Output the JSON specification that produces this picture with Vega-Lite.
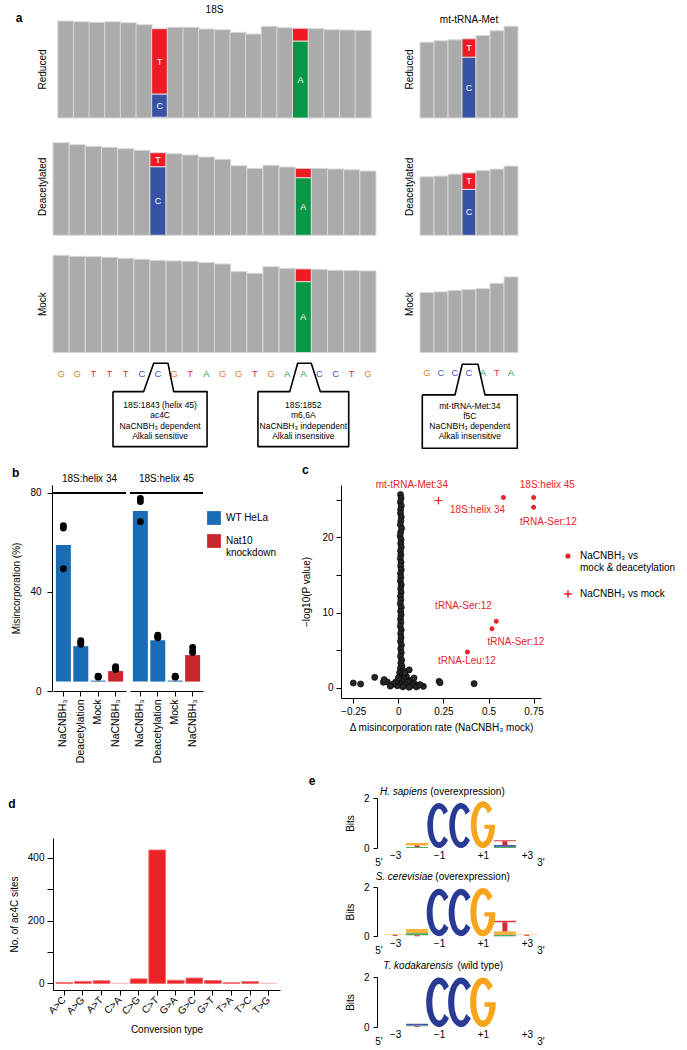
{
 "$schema": "https://vega.github.io/schema/vega-lite/v6.json",
 "background": "white",
 "padding": {"left": 8, "top": 5, "right": 2, "bottom": 2},
 "config": {
   "font": "Liberation Sans",
   "view": {"stroke": null},
   "axis": {"grid": false, "labelColor": "#000", "titleColor": "#000", "domainColor": "#000", "tickColor": "#000", "labelFontSize": 10, "titleFontSize": 10, "titleFontWeight": "normal", "labelFlush": false, "labelOverlap": false},
   "legend": {"labelColor": "#000", "labelFontSize": 10, "padding": 0},
   "title": {"fontSize": 12, "fontWeight": "bold", "color": "#000", "anchor": "start"},
   "text": {"color": "#000"}
 },
 "datasets": {
  "cov": [
   {"p":"18S","c":"Reduced","i":1,"b":"ref","n":97},{"p":"18S","c":"Reduced","i":2,"b":"ref","n":96.3},{"p":"18S","c":"Reduced","i":3,"b":"ref","n":95.7},{"p":"18S","c":"Reduced","i":4,"b":"ref","n":96.3},{"p":"18S","c":"Reduced","i":5,"b":"ref","n":95.3},{"p":"18S","c":"Reduced","i":6,"b":"ref","n":93.3},
   {"p":"18S","c":"Reduced","i":7,"b":"A","n":0.8},{"p":"18S","c":"Reduced","i":7,"b":"C","n":23.2},{"p":"18S","c":"Reduced","i":7,"b":"T","n":65.3},
   {"p":"18S","c":"Reduced","i":8,"b":"ref","n":90.7},{"p":"18S","c":"Reduced","i":9,"b":"ref","n":90.7},{"p":"18S","c":"Reduced","i":10,"b":"ref","n":89},{"p":"18S","c":"Reduced","i":11,"b":"ref","n":88.3},{"p":"18S","c":"Reduced","i":12,"b":"ref","n":85.7},{"p":"18S","c":"Reduced","i":13,"b":"ref","n":84},{"p":"18S","c":"Reduced","i":14,"b":"ref","n":91.7},{"p":"18S","c":"Reduced","i":15,"b":"ref","n":90.3},
   {"p":"18S","c":"Reduced","i":16,"b":"A","n":77},{"p":"18S","c":"Reduced","i":16,"b":"T","n":12.7},
   {"p":"18S","c":"Reduced","i":17,"b":"ref","n":89.3},{"p":"18S","c":"Reduced","i":18,"b":"ref","n":88.3},{"p":"18S","c":"Reduced","i":19,"b":"ref","n":88},{"p":"18S","c":"Reduced","i":20,"b":"ref","n":87.7},
   {"p":"18S","c":"Deacetylated","i":1,"b":"ref","n":92.6},{"p":"18S","c":"Deacetylated","i":2,"b":"ref","n":90.6},{"p":"18S","c":"Deacetylated","i":3,"b":"ref","n":89},{"p":"18S","c":"Deacetylated","i":4,"b":"ref","n":88},{"p":"18S","c":"Deacetylated","i":5,"b":"ref","n":86.6},{"p":"18S","c":"Deacetylated","i":6,"b":"ref","n":85},
   {"p":"18S","c":"Deacetylated","i":7,"b":"C","n":68.6},{"p":"18S","c":"Deacetylated","i":7,"b":"T","n":14},
   {"p":"18S","c":"Deacetylated","i":8,"b":"ref","n":81.6},{"p":"18S","c":"Deacetylated","i":9,"b":"ref","n":80.3},{"p":"18S","c":"Deacetylated","i":10,"b":"ref","n":78.3},{"p":"18S","c":"Deacetylated","i":11,"b":"ref","n":76},{"p":"18S","c":"Deacetylated","i":12,"b":"ref","n":69.6},{"p":"18S","c":"Deacetylated","i":13,"b":"ref","n":67},{"p":"18S","c":"Deacetylated","i":14,"b":"ref","n":70},{"p":"18S","c":"Deacetylated","i":15,"b":"ref","n":68.3},
   {"p":"18S","c":"Deacetylated","i":16,"b":"A","n":57.6},{"p":"18S","c":"Deacetylated","i":16,"b":"T","n":9.4},
   {"p":"18S","c":"Deacetylated","i":17,"b":"ref","n":67},{"p":"18S","c":"Deacetylated","i":18,"b":"ref","n":66.3},{"p":"18S","c":"Deacetylated","i":19,"b":"ref","n":65.6},{"p":"18S","c":"Deacetylated","i":20,"b":"ref","n":64.3},
   {"p":"18S","c":"Mock","i":1,"b":"ref","n":97.3},{"p":"18S","c":"Mock","i":2,"b":"ref","n":96.3},{"p":"18S","c":"Mock","i":3,"b":"ref","n":96},{"p":"18S","c":"Mock","i":4,"b":"ref","n":95.3},{"p":"18S","c":"Mock","i":5,"b":"ref","n":94.3},{"p":"18S","c":"Mock","i":6,"b":"ref","n":93.3},{"p":"18S","c":"Mock","i":7,"b":"ref","n":92.3},{"p":"18S","c":"Mock","i":8,"b":"ref","n":91.7},{"p":"18S","c":"Mock","i":9,"b":"ref","n":91.3},{"p":"18S","c":"Mock","i":10,"b":"ref","n":90},{"p":"18S","c":"Mock","i":11,"b":"ref","n":88.7},{"p":"18S","c":"Mock","i":12,"b":"ref","n":81},{"p":"18S","c":"Mock","i":13,"b":"ref","n":79.3},{"p":"18S","c":"Mock","i":14,"b":"ref","n":86},{"p":"18S","c":"Mock","i":15,"b":"ref","n":84.3},
   {"p":"18S","c":"Mock","i":16,"b":"A","n":71},{"p":"18S","c":"Mock","i":16,"b":"T","n":12.7},
   {"p":"18S","c":"Mock","i":17,"b":"ref","n":83.3},{"p":"18S","c":"Mock","i":18,"b":"ref","n":82.3},{"p":"18S","c":"Mock","i":19,"b":"ref","n":82},{"p":"18S","c":"Mock","i":20,"b":"ref","n":81.7},
   {"p":"tRNA","c":"Reduced","i":1,"b":"ref","n":75.8},{"p":"tRNA","c":"Reduced","i":2,"b":"ref","n":77.2},{"p":"tRNA","c":"Reduced","i":3,"b":"ref","n":78.2},{"p":"tRNA","c":"Reduced","i":4,"b":"C","n":60.8},{"p":"tRNA","c":"Reduced","i":4,"b":"T","n":18.4},{"p":"tRNA","c":"Reduced","i":5,"b":"ref","n":82.5},{"p":"tRNA","c":"Reduced","i":6,"b":"ref","n":87.2},{"p":"tRNA","c":"Reduced","i":7,"b":"ref","n":91.8},
   {"p":"tRNA","c":"Deacetylated","i":1,"b":"ref","n":58.5},{"p":"tRNA","c":"Deacetylated","i":2,"b":"ref","n":59.2},{"p":"tRNA","c":"Deacetylated","i":3,"b":"ref","n":61.2},{"p":"tRNA","c":"Deacetylated","i":4,"b":"C","n":45.9},{"p":"tRNA","c":"Deacetylated","i":4,"b":"T","n":16.6},{"p":"tRNA","c":"Deacetylated","i":5,"b":"ref","n":64.9},{"p":"tRNA","c":"Deacetylated","i":6,"b":"ref","n":66.2},{"p":"tRNA","c":"Deacetylated","i":7,"b":"ref","n":69.2},
   {"p":"tRNA","c":"Mock","i":1,"b":"ref","n":60},{"p":"tRNA","c":"Mock","i":2,"b":"ref","n":60.7},{"p":"tRNA","c":"Mock","i":3,"b":"ref","n":62.3},{"p":"tRNA","c":"Mock","i":4,"b":"ref","n":63},{"p":"tRNA","c":"Mock","i":5,"b":"ref","n":64},{"p":"tRNA","c":"Mock","i":6,"b":"ref","n":69.3},{"p":"tRNA","c":"Mock","i":7,"b":"ref","n":75.7}
  ],
  "seq": [
   {"p":"18S","i":1,"L":"G"},{"p":"18S","i":2,"L":"G"},{"p":"18S","i":3,"L":"T"},{"p":"18S","i":4,"L":"T"},{"p":"18S","i":5,"L":"T"},{"p":"18S","i":6,"L":"C"},{"p":"18S","i":7,"L":"C"},{"p":"18S","i":8,"L":"G"},{"p":"18S","i":9,"L":"T"},{"p":"18S","i":10,"L":"A"},{"p":"18S","i":11,"L":"G"},{"p":"18S","i":12,"L":"G"},{"p":"18S","i":13,"L":"T"},{"p":"18S","i":14,"L":"G"},{"p":"18S","i":15,"L":"A"},{"p":"18S","i":16,"L":"A"},{"p":"18S","i":17,"L":"C"},{"p":"18S","i":18,"L":"C"},{"p":"18S","i":19,"L":"T"},{"p":"18S","i":20,"L":"G"},
   {"p":"tRNA","i":1,"L":"G"},{"p":"tRNA","i":2,"L":"C"},{"p":"tRNA","i":3,"L":"C"},{"p":"tRNA","i":4,"L":"C"},{"p":"tRNA","i":5,"L":"A"},{"p":"tRNA","i":6,"L":"T"},{"p":"tRNA","i":7,"L":"A"}
  ],
  "box": [
   {"p":"18S","g":1,"k":1,"x":4.215,"y":35},{"p":"18S","g":1,"k":2,"x":6.116,"y":35},{"p":"18S","g":1,"k":3,"x":6.735,"y":6.7},{"p":"18S","g":1,"k":4,"x":7.621,"y":6.7},{"p":"18S","g":1,"k":5,"x":7.974,"y":35},{"p":"18S","g":1,"k":6,"x":10.04,"y":35},{"p":"18S","g":1,"k":7,"x":10.04,"y":90},{"p":"18S","g":1,"k":8,"x":4.215,"y":90},{"p":"18S","g":1,"k":9,"x":4.215,"y":35},
   {"p":"18S","g":2,"k":1,"x":13.19,"y":35},{"p":"18S","g":2,"k":2,"x":15.16,"y":35},{"p":"18S","g":2,"k":3,"x":15.65,"y":6.7},{"p":"18S","g":2,"k":4,"x":16.49,"y":6.7},{"p":"18S","g":2,"k":5,"x":17.05,"y":35},{"p":"18S","g":2,"k":6,"x":18.81,"y":35},{"p":"18S","g":2,"k":7,"x":18.81,"y":90},{"p":"18S","g":2,"k":8,"x":13.19,"y":90},{"p":"18S","g":2,"k":9,"x":13.19,"y":35},
   {"p":"tRNA","g":3,"k":1,"x":0.664,"y":38.3},{"p":"tRNA","g":3,"k":2,"x":3.0,"y":38.3},{"p":"tRNA","g":3,"k":3,"x":3.52,"y":7.7},{"p":"tRNA","g":3,"k":4,"x":4.64,"y":7.7},{"p":"tRNA","g":3,"k":5,"x":5.14,"y":38.3},{"p":"tRNA","g":3,"k":6,"x":7.45,"y":38.3},{"p":"tRNA","g":3,"k":7,"x":7.45,"y":91.7},{"p":"tRNA","g":3,"k":8,"x":0.664,"y":91.7},{"p":"tRNA","g":3,"k":9,"x":0.664,"y":38.3}
  ],
  "btxt": [
   {"p":"18S","x":7.13,"y":48.3,"t":"18S:1843 (helix 45)"},{"p":"18S","x":7.13,"y":58.3,"t":"ac4C"},{"p":"18S","x":7.13,"y":69,"t":"NaCNBH₃ dependent"},{"p":"18S","x":7.13,"y":79.3,"t":"Alkali sensitive"},
   {"p":"18S","x":16.0,"y":48.3,"t":"18S:1852"},{"p":"18S","x":16.0,"y":58.3,"t":"m6,6A"},{"p":"18S","x":16.0,"y":69,"t":"NaCNBH₃ independent"},{"p":"18S","x":16.0,"y":79.3,"t":"Alkali insensitive"},
   {"p":"tRNA","x":4.06,"y":49,"t":"mt-tRNA-Met:34"},{"p":"tRNA","x":4.06,"y":59,"t":"f5C"},{"p":"tRNA","x":4.06,"y":69,"t":"NaCNBH₃ dependent"},{"p":"tRNA","x":4.06,"y":79.3,"t":"Alkali insensitive"}
  ],
  "mis": [
   {"h":"18S:helix 34","t":"NaCNBH₃ (WT)","g":"WT HeLa","m":59},{"h":"18S:helix 34","t":"Deacetylation","g":"WT HeLa","m":18.1},{"h":"18S:helix 34","t":"Mock","g":"WT HeLa","m":4.2},{"h":"18S:helix 34","t":"NaCNBH₃ (Nat10 KD)","g":"Nat10 knockdown","m":8.05},
   {"h":"18S:helix 45","t":"NaCNBH₃ (WT)","g":"WT HeLa","m":72.7},{"h":"18S:helix 45","t":"Deacetylation","g":"WT HeLa","m":20.5},{"h":"18S:helix 45","t":"Mock","g":"WT HeLa","m":4.2},{"h":"18S:helix 45","t":"NaCNBH₃ (Nat10 KD)","g":"Nat10 knockdown","m":14.5},
   {"h":"18S:helix 34","t":"NaCNBH₃ (WT)","r":66.8},{"h":"18S:helix 34","t":"NaCNBH₃ (WT)","r":65.8},{"h":"18S:helix 34","t":"NaCNBH₃ (WT)","r":49.4},
   {"h":"18S:helix 34","t":"Deacetylation","r":20.3},{"h":"18S:helix 34","t":"Deacetylation","r":19.5},{"h":"18S:helix 34","t":"Deacetylation","r":18.9},
   {"h":"18S:helix 34","t":"Mock","r":5.8},{"h":"18S:helix 34","t":"Mock","r":5.6},{"h":"18S:helix 34","t":"Mock","r":6.0},
   {"h":"18S:helix 34","t":"NaCNBH₃ (Nat10 KD)","r":9.8},{"h":"18S:helix 34","t":"NaCNBH₃ (Nat10 KD)","r":9.2},{"h":"18S:helix 34","t":"NaCNBH₃ (Nat10 KD)","r":8.7},
   {"h":"18S:helix 45","t":"NaCNBH₃ (WT)","r":77.8},{"h":"18S:helix 45","t":"NaCNBH₃ (WT)","r":76.5},{"h":"18S:helix 45","t":"NaCNBH₃ (WT)","r":68.4},
   {"h":"18S:helix 45","t":"Deacetylation","r":22.5},{"h":"18S:helix 45","t":"Deacetylation","r":21.9},{"h":"18S:helix 45","t":"Deacetylation","r":21.5},
   {"h":"18S:helix 45","t":"Mock","r":5.8},{"h":"18S:helix 45","t":"Mock","r":5.6},{"h":"18S:helix 45","t":"Mock","r":6.0},
   {"h":"18S:helix 45","t":"NaCNBH₃ (Nat10 KD)","r":17.6},{"h":"18S:helix 45","t":"NaCNBH₃ (Nat10 KD)","r":15.9},{"h":"18S:helix 45","t":"NaCNBH₃ (Nat10 KD)","r":15.5}
  ],
  "cpts": [
   {"dx":0.012,"lp":25.7},{"dx":0.015,"lp":25.2},{"dx":0.011,"lp":24.7},{"dx":0.016,"lp":24.2},{"dx":0.013,"lp":23.7},{"dx":0.012,"lp":23.2},{"dx":0.016,"lp":22.7},{"dx":0.014,"lp":22.2},{"dx":0.011,"lp":21.7},{"dx":0.018,"lp":21.2},{"dx":0.013,"lp":20.7},{"dx":0.01,"lp":20.2},{"dx":0.015,"lp":19.7},{"dx":0.013,"lp":19.2},{"dx":0.016,"lp":18.7},{"dx":0.012,"lp":18.2},{"dx":0.014,"lp":17.7},{"dx":0.011,"lp":17.2},{"dx":0.015,"lp":16.7},{"dx":0.013,"lp":16.2},{"dx":0.016,"lp":15.7},{"dx":0.012,"lp":15.2},{"dx":0.014,"lp":14.7},{"dx":0.011,"lp":14.2},{"dx":0.016,"lp":13.7},{"dx":0.013,"lp":13.2},{"dx":0.015,"lp":12.7},{"dx":0.012,"lp":12.2},{"dx":0.014,"lp":11.7},{"dx":0.011,"lp":11.2},{"dx":0.016,"lp":10.7},{"dx":0.013,"lp":10.2},{"dx":0.015,"lp":9.7},{"dx":0.012,"lp":9.2},{"dx":0.014,"lp":8.7},{"dx":0.011,"lp":8.2},{"dx":0.016,"lp":7.7},{"dx":0.013,"lp":7.2},{"dx":0.015,"lp":6.7},{"dx":0.012,"lp":6.2},{"dx":0.017,"lp":5.7},{"dx":0.013,"lp":5.2},{"dx":0.016,"lp":4.7},{"dx":0.012,"lp":4.2},{"dx":0.018,"lp":3.7},{"dx":0.014,"lp":3.3},{"dx":0.02,"lp":2.9},{"dx":0.011,"lp":2.6},{"dx":0.026,"lp":2.3},{"dx":0.007,"lp":2.0},{"dx":0.035,"lp":1.9},{"dx":0.06,"lp":2.4},{"dx":0.018,"lp":1.7},{"dx":0.045,"lp":1.5},{"dx":0.004,"lp":1.4},{"dx":0.03,"lp":1.2},{"dx":0.07,"lp":1.0},{"dx":0.02,"lp":0.9},{"dx":0.055,"lp":0.8},{"dx":0.088,"lp":0.6},{"dx":0.01,"lp":0.5},{"dx":0.04,"lp":0.4},{"dx":0.075,"lp":0.35},{"dx":0.108,"lp":0.3},{"dx":0.139,"lp":0.22},{"dx":0.025,"lp":0.15},{"dx":0.06,"lp":0.1},{"dx":0.1,"lp":0.15},{"dx":-0.005,"lp":0.3},{"dx":-0.015,"lp":0.8},{"dx":0.036,"lp":2.0},{"dx":0.087,"lp":1.33},{"dx":0.12,"lp":0.45},
   {"dx":-0.25,"lp":0.66},{"dx":-0.209,"lp":0.53},{"dx":-0.131,"lp":1.42},{"dx":-0.083,"lp":0.76},{"dx":-0.061,"lp":0.8},{"dx":-0.079,"lp":1.1},{"dx":0.0,"lp":1.33},{"dx":-0.03,"lp":0.5},{"dx":-0.045,"lp":0.25},{"dx":0.226,"lp":0.89},{"dx":0.231,"lp":0.7},{"dx":0.42,"lp":0.57}
  ],
  "cred": [
   {"dx":0.583,"lp":25.3,"cmp":"both"},{"dx":0.75,"lp":25.3,"cmp":"both"},{"dx":0.75,"lp":24.0,"cmp":"both"},{"dx":0.543,"lp":8.86,"cmp":"both"},{"dx":0.519,"lp":7.88,"cmp":"both"},{"dx":0.383,"lp":4.78,"cmp":"both"},{"dx":0.222,"lp":24.9,"cmp":"mock"}
  ],
  "clab": [
   {"dx":0.075,"lp":26.9,"t":"mt-tRNA-Met:34"},{"dx":0.826,"lp":26.9,"t":"18S:helix 45"},{"dx":0.439,"lp":23.6,"t":"18S:helix 34"},{"dx":0.832,"lp":22.0,"t":"tRNA-Ser:12"},{"dx":0.361,"lp":10.84,"t":"tRNA-Ser:12"},{"dx":0.652,"lp":6.15,"t":"tRNA-Ser:12"},{"dx":0.38,"lp":3.53,"t":"tRNA-Leu:12"}
  ],
  "conv": [
   {"k":"A>C","n":3},{"k":"A>G","n":6.5},{"k":"A>T","n":8.5},{"k":"C>A","n":0.5},{"k":"C>G","n":14.5},{"k":"C>T","n":425},{"k":"G>A","n":10},{"k":"G>C","n":17},{"k":"G>T","n":9},{"k":"T>A","n":2},{"k":"T>C","n":5.5},{"k":"T>G","n":0.5}
  ],
  "logoL": [
   {"lg":1,"pos":-1,"L":"C","bits":1.8},{"lg":1,"pos":0,"L":"C","bits":1.8},{"lg":1,"pos":1,"L":"G","bits":1.87},
   {"lg":2,"pos":-1,"L":"C","bits":1.9},{"lg":2,"pos":0,"L":"C","bits":1.9},{"lg":2,"pos":1,"L":"G","bits":1.93},
   {"lg":3,"pos":-1,"L":"C","bits":1.98},{"lg":3,"pos":0,"L":"C","bits":1.98},{"lg":3,"pos":1,"L":"G","bits":1.98}
  ],
  "logoS": [
   {"lg":1,"pos":-2,"L":"A","lo":0,"hi":0.04,"part":"f"},{"lg":1,"pos":-2,"L":"T","lo":0.04,"hi":0.1,"part":"s"},{"lg":1,"pos":-2,"L":"G","lo":0.1,"hi":0.2,"part":"f"},
   {"lg":1,"pos":2,"L":"A","lo":0,"hi":0.05,"part":"f"},{"lg":1,"pos":2,"L":"C","lo":0.05,"hi":0.12,"part":"f"},{"lg":1,"pos":2,"L":"T","lo":0.12,"hi":0.27,"part":"s"},{"lg":1,"pos":2,"L":"T","lo":0.27,"hi":0.31,"part":"f"},
   {"lg":2,"pos":-3,"L":"T","lo":0.02,"hi":0.06,"part":"s"},{"lg":2,"pos":-3,"L":"G","lo":0.06,"hi":0.08,"part":"f"},
   {"lg":2,"pos":-2,"L":"T","lo":0,"hi":0.04,"part":"s"},{"lg":2,"pos":-2,"L":"A","lo":0.04,"hi":0.13,"part":"f"},{"lg":2,"pos":-2,"L":"G","lo":0.13,"hi":0.3,"part":"f"},
   {"lg":2,"pos":2,"L":"A","lo":0,"hi":0.06,"part":"f"},{"lg":2,"pos":2,"L":"G","lo":0.06,"hi":0.2,"part":"f"},{"lg":2,"pos":2,"L":"T","lo":0.2,"hi":0.57,"part":"s"},{"lg":2,"pos":2,"L":"T","lo":0.57,"hi":0.63,"part":"f"},
   {"lg":2,"pos":3,"L":"T","lo":0.02,"hi":0.06,"part":"s"},{"lg":2,"pos":3,"L":"G","lo":0.06,"hi":0.08,"part":"f"},
   {"lg":3,"pos":-2,"L":"T","lo":0,"hi":0.03,"part":"s"},{"lg":3,"pos":-2,"L":"A","lo":0.03,"hi":0.06,"part":"f"},{"lg":3,"pos":-2,"L":"C","lo":0.06,"hi":0.13,"part":"f"}
  ],
  "etxt": [
   {"lg":1,"kind":"species","x":-3.69,"y":2.24,"t":"H. sapiens"},{"lg":1,"kind":"strain","x":-1.4,"y":2.24,"t":"(overexpression)"},{"lg":1,"kind":"end","x":-3.74,"y":-0.6,"t":"5′"},{"lg":1,"kind":"end","x":3.64,"y":-0.6,"t":"3′"},{"lg":1,"kind":"panel","x":-6.79,"y":2.67,"t":"e"},
   {"lg":2,"kind":"species","x":-3.89,"y":2.4,"t":"S. cerevisiae"},{"lg":2,"kind":"strain","x":-1.17,"y":2.4,"t":"(overexpression)"},{"lg":2,"kind":"end","x":-3.74,"y":-0.6,"t":"5′"},{"lg":2,"kind":"end","x":3.64,"y":-0.6,"t":"3′"},
   {"lg":3,"kind":"species","x":-3.54,"y":2.44,"t":"T. kodakarensis"},{"lg":3,"kind":"strain","x":-0.16,"y":2.44,"t":"(wild type)"},{"lg":3,"kind":"end","x":-3.74,"y":-0.6,"t":"5′"},{"lg":3,"kind":"end","x":3.64,"y":-0.6,"t":"3′"}
  ],
  "plab": [{"panel": "a", "x": -1.98, "y": 100}, {"panel": "d", "x": -41, "y": 6}]
 },
 "columns": 1,
 "align": "none",
 "spacing": 12,
 "resolve": {"scale": {"color": "independent", "fill": "independent", "stroke": "independent", "shape": "independent", "size": "independent", "opacity": "independent"}},
 "concat": [
  {
   "spacing": 27,
   "resolve": {"scale": {"color": "independent", "fill": "independent", "stroke": "independent", "shape": "independent", "size": "independent", "opacity": "independent"}},
   "hconcat": [
    {
     "spacing": 19.3,
     "bounds": "flush",
     "resolve": {"scale": {"color": "independent", "fill": "independent", "stroke": "independent", "shape": "independent", "size": "independent", "opacity": "independent"}},
     "vconcat": [
      {
       "width": 323, "height": 98,
       "title": {"text": "18S", "fontSize": 10, "fontWeight": "normal", "anchor": "middle", "offset": -3},
       "layer": [
        {"data": {"name": "cov"}, "transform": [{"filter": "datum.p == '18S' && datum.c == 'Reduced'"}],
         "mark": {"type": "bar", "stroke": "#d9d9d9", "strokeWidth": 1, "size": 16.15},
         "encoding": {
          "x": {"field": "i", "type": "quantitative", "axis": null, "scale": {"domain": [0.5, 20.5], "nice": false, "zero": false}},
          "y": {"field": "n", "type": "quantitative", "stack": "zero", "scale": {"domain": [0, 98], "nice": false}, "axis": {"title": "Reduced", "labels": false, "ticks": false, "domain": false, "titlePadding": 6}},
          "order": {"field": "b"},
          "color": {"field": "b", "type": "nominal", "scale": {"domain": ["A","C","G","T","ref"], "range": ["#0a9648","#3953a4","#f7941d","#ed1c24","#ababab"]}, "legend": null}}},
        {"data": {"name": "cov"}, "transform": [{"filter": "datum.p == '18S' && datum.c == 'Reduced' && datum.b != 'ref' && datum.n > 13.5"}],
         "mark": {"type": "text", "color": "#fff", "fontSize": 9},
         "encoding": {"x": {"field": "i", "type": "quantitative"}, "y": {"field": "n", "type": "quantitative", "stack": "zero", "bandPosition": 0.5}, "order": {"field": "b"}, "text": {"field": "b"}}},
        {"data": {"name": "plab"}, "transform": [{"filter": "datum.panel == 'a'"}], "mark": {"type": "text", "fontSize": 12, "fontWeight": "bold"},
         "encoding": {"x": {"field": "x", "type": "quantitative"}, "y": {"field": "y", "type": "quantitative"}, "text": {"field": "panel"}}}
       ]
      },
      {
       "width": 323, "height": 98,
       "data": {"name": "cov"},
       "transform": [{"filter": "datum.p == '18S' && datum.c == 'Deacetylated'"}],
       "encoding": {
        "x": {"field": "i", "type": "ordinal", "axis": null, "scale": {"paddingInner": 0, "paddingOuter": 0}},
        "y": {"field": "n", "type": "quantitative", "stack": "zero", "scale": {"domain": [0, 98], "nice": false}, "axis": {"title": "Deacetylated", "labels": false, "ticks": false, "domain": false, "titlePadding": 6}},
        "order": {"field": "b"}
       },
       "layer": [
        {"mark": {"type": "bar", "stroke": "#d9d9d9", "strokeWidth": 1}, "encoding": {"color": {"field": "b", "type": "nominal", "scale": {"domain": ["A","C","G","T","ref"], "range": ["#0a9648","#3953a4","#f7941d","#ed1c24","#ababab"]}, "legend": null}}},
        {"transform": [{"filter": "datum.b != 'ref' && datum.n > 13.5"}], "mark": {"type": "text", "color": "#fff", "fontSize": 9}, "encoding": {"y": {"field": "n", "type": "quantitative", "stack": "zero", "bandPosition": 0.5}, "text": {"field": "b"}}}
       ]
      },
      {
       "width": 323, "height": 98,
       "data": {"name": "cov"},
       "transform": [{"filter": "datum.p == '18S' && datum.c == 'Mock'"}],
       "encoding": {
        "x": {"field": "i", "type": "ordinal", "axis": null, "scale": {"paddingInner": 0, "paddingOuter": 0}},
        "y": {"field": "n", "type": "quantitative", "stack": "zero", "scale": {"domain": [0, 98], "nice": false}, "axis": {"title": "Mock", "labels": false, "ticks": false, "domain": false, "titlePadding": 6}},
        "order": {"field": "b"}
       },
       "layer": [
        {"mark": {"type": "bar", "stroke": "#d9d9d9", "strokeWidth": 1}, "encoding": {"color": {"field": "b", "type": "nominal", "scale": {"domain": ["A","C","G","T","ref"], "range": ["#0a9648","#3953a4","#f7941d","#ed1c24","#ababab"]}, "legend": null}}},
        {"transform": [{"filter": "datum.b != 'ref' && datum.n > 13.5"}], "mark": {"type": "text", "color": "#fff", "fontSize": 9}, "encoding": {"y": {"field": "n", "type": "quantitative", "stack": "zero", "bandPosition": 0.5}, "text": {"field": "b"}}}
       ]
      },
      {
       "width": 323, "height": 79.7,
       "layer": [
        {"data": {"name": "seq"}, "transform": [{"filter": "datum.p == '18S'"}], "mark": {"type": "text", "fontSize": 9.5},
         "encoding": {"x": {"field": "i", "type": "quantitative", "scale": {"domain": [0.5, 20.5], "nice": false, "zero": false}, "axis": null},
                      "y": {"datum": 17, "type": "quantitative", "scale": {"domain": [15.3, 95], "reverse": true, "nice": false, "zero": false}, "axis": null},
                      "text": {"field": "L"},
                      "color": {"field": "L", "type": "nominal", "scale": {"domain": ["A","C","G","T"], "range": ["#24a148","#4356c0","#e07f36","#e62f2a"]}, "legend": null}}},
        {"data": {"name": "box"}, "transform": [{"filter": "datum.p == '18S'"}], "mark": {"type": "line", "color": "#000", "strokeWidth": 1.6, "strokeJoin": "round"},
         "encoding": {"x": {"field": "x", "type": "quantitative"}, "y": {"field": "y", "type": "quantitative"}, "detail": {"field": "g", "type": "nominal"}, "order": {"field": "k", "type": "quantitative"}}},
        {"data": {"name": "btxt"}, "transform": [{"filter": "datum.p == '18S'"}], "mark": {"type": "text", "fontSize": 8.5},
         "encoding": {"x": {"field": "x", "type": "quantitative"}, "y": {"field": "y", "type": "quantitative"}, "text": {"field": "t"}}}
       ]
      }
     ]
    },
    {
     "spacing": 19.3,
     "bounds": "flush",
     "resolve": {"scale": {"color": "independent", "fill": "independent", "stroke": "independent", "shape": "independent", "size": "independent", "opacity": "independent"}},
     "vconcat": [
      {
       "width": 98, "height": 98,
       "title": {"text": "mt-tRNA-Met", "fontSize": 10, "fontWeight": "normal", "anchor": "middle", "offset": -5},
       "data": {"name": "cov"},
       "transform": [{"filter": "datum.p == 'tRNA' && datum.c == 'Reduced'"}],
       "encoding": {
        "x": {"field": "i", "type": "ordinal", "axis": null, "scale": {"paddingInner": 0, "paddingOuter": 0}},
        "y": {"field": "n", "type": "quantitative", "stack": "zero", "scale": {"domain": [0, 98], "nice": false}, "axis": {"title": "Reduced", "labels": false, "ticks": false, "domain": false, "titlePadding": 6}},
        "order": {"field": "b"}
       },
       "layer": [
        {"mark": {"type": "bar", "stroke": "#d9d9d9", "strokeWidth": 1}, "encoding": {"color": {"field": "b", "type": "nominal", "scale": {"domain": ["A","C","G","T","ref"], "range": ["#0a9648","#3953a4","#f7941d","#ed1c24","#ababab"]}, "legend": null}}},
        {"transform": [{"filter": "datum.b != 'ref' && datum.n > 13.5"}], "mark": {"type": "text", "color": "#fff", "fontSize": 9}, "encoding": {"y": {"field": "n", "type": "quantitative", "stack": "zero", "bandPosition": 0.5}, "text": {"field": "b"}}}
       ]
      },
      {
       "width": 98, "height": 98,
       "data": {"name": "cov"},
       "transform": [{"filter": "datum.p == 'tRNA' && datum.c == 'Deacetylated'"}],
       "encoding": {
        "x": {"field": "i", "type": "ordinal", "axis": null, "scale": {"paddingInner": 0, "paddingOuter": 0}},
        "y": {"field": "n", "type": "quantitative", "stack": "zero", "scale": {"domain": [0, 98], "nice": false}, "axis": {"title": "Deacetylated", "labels": false, "ticks": false, "domain": false, "titlePadding": 6}},
        "order": {"field": "b"}
       },
       "layer": [
        {"mark": {"type": "bar", "stroke": "#d9d9d9", "strokeWidth": 1}, "encoding": {"color": {"field": "b", "type": "nominal", "scale": {"domain": ["A","C","G","T","ref"], "range": ["#0a9648","#3953a4","#f7941d","#ed1c24","#ababab"]}, "legend": null}}},
        {"transform": [{"filter": "datum.b != 'ref' && datum.n > 13.5"}], "mark": {"type": "text", "color": "#fff", "fontSize": 9}, "encoding": {"y": {"field": "n", "type": "quantitative", "stack": "zero", "bandPosition": 0.5}, "text": {"field": "b"}}}
       ]
      },
      {
       "width": 98, "height": 98,
       "data": {"name": "cov"},
       "transform": [{"filter": "datum.p == 'tRNA' && datum.c == 'Mock'"}],
       "encoding": {
        "x": {"field": "i", "type": "ordinal", "axis": null, "scale": {"paddingInner": 0, "paddingOuter": 0}},
        "y": {"field": "n", "type": "quantitative", "stack": "zero", "scale": {"domain": [0, 98], "nice": false}, "axis": {"title": "Mock", "labels": false, "ticks": false, "domain": false, "titlePadding": 6}},
        "order": {"field": "b"}
       },
       "layer": [
        {"mark": {"type": "bar", "stroke": "#d9d9d9", "strokeWidth": 1}, "encoding": {"color": {"field": "b", "type": "nominal", "scale": {"domain": ["A","C","G","T","ref"], "range": ["#0a9648","#3953a4","#f7941d","#ed1c24","#ababab"]}, "legend": null}}}
       ]
      },
      {
       "width": 98, "height": 79.7,
       "layer": [
        {"data": {"name": "seq"}, "transform": [{"filter": "datum.p == 'tRNA'"}], "mark": {"type": "text", "fontSize": 9.5},
         "encoding": {"x": {"field": "i", "type": "quantitative", "scale": {"domain": [0.5, 7.5], "nice": false, "zero": false}, "axis": null},
                      "y": {"datum": 16.7, "type": "quantitative", "scale": {"domain": [15.3, 95], "reverse": true, "nice": false, "zero": false}, "axis": null},
                      "text": {"field": "L"},
                      "color": {"field": "L", "type": "nominal", "scale": {"domain": ["A","C","G","T"], "range": ["#24a148","#4356c0","#e07f36","#e62f2a"]}, "legend": null}}},
        {"data": {"name": "box"}, "transform": [{"filter": "datum.p == 'tRNA'"}], "mark": {"type": "line", "color": "#000", "strokeWidth": 1.6, "strokeJoin": "round"},
         "encoding": {"x": {"field": "x", "type": "quantitative"}, "y": {"field": "y", "type": "quantitative"}, "detail": {"field": "g", "type": "nominal"}, "order": {"field": "k", "type": "quantitative"}}},
        {"data": {"name": "btxt"}, "transform": [{"filter": "datum.p == 'tRNA'"}], "mark": {"type": "text", "fontSize": 8.5},
         "encoding": {"x": {"field": "x", "type": "quantitative"}, "y": {"field": "y", "type": "quantitative"}, "text": {"field": "t"}}}
       ]
      }
     ]
    }
   ]
  },
  {
   "columns": 1,
   "align": "none",
   "spacing": 12,
   "resolve": {"scale": {"color": "independent", "fill": "independent", "stroke": "independent", "shape": "independent", "size": "independent", "opacity": "independent"}},
   "concat": [
    {
     "columns": 2,
     "align": "none",
     "spacing": 24,
     "resolve": {"scale": {"color": "independent", "fill": "independent", "stroke": "independent", "shape": "independent", "size": "independent", "opacity": "independent"}},
     "concat": [
      {
       "title": {"text": "b", "frame": "bounds", "anchor": "start", "dx": 0, "dy": 6, "offset": 0},
       "data": {"name": "mis"},
       "facet": {"column": {"field": "h", "type": "nominal", "header": null}},
       "spacing": 2,
       "spec": {
        "width": 73, "height": 206,
        "layer": [
         {"transform": [{"filter": "isValid(datum.m)"}],
          "mark": {"type": "bar"},
          "encoding": {
           "x": {"field": "t", "type": "nominal", "sort": ["NaCNBH₃ (WT)", "Deacetylation", "Mock", "NaCNBH₃ (Nat10 KD)"], "scale": {"paddingInner": 0.14, "paddingOuter": 0.165}, "axis": {"title": null, "labelAngle": -90, "labelAlign": "right", "labelBaseline": "middle", "labelFontSize": 10.5, "tickSize": 5, "labelPadding": 3, "labelExpr": "indexof(datum.label, 'NaCNBH') == 0 ? 'NaCNBH₃' : datum.label"}},
           "y": {"field": "m", "type": "quantitative", "scale": {"domain": [0, 83.2], "nice": false}, "axis": {"title": "Misincorporation (%)", "values": [0, 40, 80], "tickSize": 5, "labelPadding": 6, "titlePadding": 8}},
           "y2": {"datum": 3.8},
           "color": {"field": "g", "type": "nominal", "scale": {"domain": ["WT HeLa", "Nat10 knockdown"], "range": ["#1a6cb3", "#c8272d"]},
                     "legend": {"title": null, "orient": "none", "legendX": 154, "legendY": 26, "symbolType": "square", "symbolSize": 190, "symbolStrokeWidth": 0, "labelFontSize": 10, "rowPadding": 9, "labelOffset": 5, "labelExpr": "datum.label == 'Nat10 knockdown' ? ['Nat10', 'knockdown'] : datum.label"}}
          }},
         {"transform": [{"filter": "isValid(datum.r)"}],
          "mark": {"type": "circle", "size": 48, "color": "#000", "opacity": 1},
          "encoding": {"x": {"field": "t", "type": "nominal", "sort": ["NaCNBH₃ (WT)", "Deacetylation", "Mock", "NaCNBH₃ (Nat10 KD)"]}, "y": {"field": "r", "type": "quantitative"}}},
         {"mark": {"type": "rule", "strokeWidth": 1.5, "color": "#000"}, "encoding": {"y": {"datum": 80}}},
         {"transform": [{"aggregate": [{"op": "count", "as": "cnt"}], "groupby": ["h"]}],
          "mark": {"type": "text", "fontSize": 10},
          "encoding": {"y": {"datum": 85.5}, "text": {"field": "h"}}}
        ]
       }
      },
      {
       "title": {"text": "c", "frame": "bounds", "anchor": "start", "dx": 0, "dy": -3, "offset": 0},
       "width": 200, "height": 213,
       "layer": [
        {"data": {"name": "cpts"}, "mark": {"type": "circle", "size": 38, "fill": "#262626", "stroke": "#000", "strokeWidth": 0.6, "opacity": 1},
         "encoding": {
          "x": {"field": "dx", "type": "quantitative", "scale": {"domain": [-0.318, 0.791], "nice": false, "zero": false},
                "axis": {"title": "Δ misincorporation rate (NaCNBH₃ mock)", "values": [-0.25, 0, 0.25, 0.5, 0.75], "labelExpr": "datum.value < 0 ? '−' + format(-datum.value, '~g') : format(datum.value, '~g')", "tickSize": 5, "labelPadding": 3, "titlePadding": 6}},
          "y": {"field": "lp", "type": "quantitative", "scale": {"domain": [-1.33, 26.96], "nice": false, "zero": false},
                "axis": {"title": "−log10(P value)", "values": [0, 5, 10, 15, 20, 25], "labelExpr": "datum.value % 10 == 0 ? datum.label : ''", "tickSize": 5, "labelPadding": 3, "titlePadding": 10}}
         }},
        {"mark": {"type": "rule", "strokeDash": [2, 2], "strokeWidth": 1.5, "color": "#000"}, "encoding": {"x": {"datum": 0.047}}},
        {"mark": {"type": "rule", "strokeDash": [2, 2], "strokeWidth": 1.5, "color": "#000"}, "encoding": {"y": {"datum": 1.3}}},
        {"data": {"name": "cred"}, "mark": {"type": "point", "opacity": 1, "strokeWidth": 1.2},
         "encoding": {
          "x": {"field": "dx", "type": "quantitative"},
          "y": {"field": "lp", "type": "quantitative"},
          "shape": {"field": "cmp", "type": "nominal", "scale": {"domain": ["both", "mock"], "range": ["circle", "M-1,0L1,0M0,-1L0,1"]},
                    "legend": {"title": null, "orient": "none", "legendX": 222, "legendY": 66, "labelFontSize": 10, "rowPadding": 14, "labelOffset": 7, "labelExpr": "datum.value == 'both' ? ['NaCNBH₃ vs', 'mock & deacetylation'] : 'NaCNBH₃ vs mock'"}},
          "fill": {"field": "cmp", "type": "nominal", "scale": {"domain": ["both", "mock"], "range": ["#e8242a", "transparent"]}},
          "stroke": {"field": "cmp", "type": "nominal", "scale": {"domain": ["both", "mock"], "range": ["#e8242a", "#e8242a"]}},
          "size": {"field": "cmp", "type": "nominal", "scale": {"domain": ["both", "mock"], "range": [14, 60]}}
         }},
        {"data": {"name": "clab"}, "mark": {"type": "text", "color": "#e8242a", "fontSize": 10},
         "encoding": {"x": {"field": "dx", "type": "quantitative"}, "y": {"field": "lp", "type": "quantitative"}, "text": {"field": "t"}}}
       ]
      }
     ]
    },
    {
     "spacing": 28,
     "resolve": {"scale": {"color": "independent", "fill": "independent", "stroke": "independent", "shape": "independent", "size": "independent", "opacity": "independent"}},
     "hconcat": [
      {
       "spacing": 18,
       "resolve": {"scale": {"color": "independent", "fill": "independent", "stroke": "independent", "shape": "independent", "size": "independent", "opacity": "independent"}},
       "vconcat": [
        {
         "width": 227, "height": 22,
         "data": {"name": "plab"},
         "transform": [{"filter": "datum.panel == 'd'"}],
         "mark": {"type": "text", "fontSize": 12, "fontWeight": "bold"},
         "encoding": {
          "x": {"field": "x", "type": "quantitative", "scale": {"domain": [0, 227], "nice": false, "zero": false}, "axis": null},
          "y": {"field": "y", "type": "quantitative", "scale": {"domain": [0, 22], "nice": false, "zero": false, "reverse": true}, "axis": null},
          "text": {"field": "panel"}
         }
        },
        {
         "width": 227, "height": 152,
         "data": {"name": "conv"},
         "layer": [
          {"mark": {"type": "bar", "strokeWidth": 1},
           "encoding": {
            "x": {"field": "k", "type": "nominal", "sort": null, "scale": {"paddingInner": 0.1, "paddingOuter": 0.16},
                  "axis": {"title": "Conversion type", "labelAngle": -45, "labelAlign": "right", "labelBaseline": "middle", "labelOverlap": false, "tickSize": 5, "labelPadding": 3, "titlePadding": 8}},
            "y": {"field": "n", "type": "quantitative", "scale": {"domain": [-21, 463.2], "nice": false, "zero": false},
                  "axis": {"title": "No. of ac4C sites", "values": [0, 100, 200, 300, 400], "labelExpr": "datum.value % 200 == 0 ? datum.label : ''", "labelOverlap": false, "tickSize": 6, "labelPadding": 3, "titlePadding": 8}},
            "y2": {"datum": 0},
            "fill": {"condition": {"test": "datum.n < 1", "value": "#f5b0b2"}, "value": "#ec2227"},
            "stroke": {"condition": {"test": "datum.n < 1", "value": "#f8c4c5"}, "value": "#f26d72"}
           }}
         ]
        }
       ]
      },
      {
       "spacing": 4,
       "resolve": {"scale": {"color": "independent", "fill": "independent", "stroke": "independent", "shape": "independent", "size": "independent", "opacity": "independent"}},
       "vconcat": [
        {
         "width": 168, "height": 50,
         "layer": [
          {"data": {"name": "logoS"}, "transform": [{"filter": "datum.lg == 1 && datum.part == 'f'"}], "mark": {"type": "bar", "size": 22, "opacity": 0.85},
           "encoding": {"x": {"field": "pos", "type": "quantitative", "scale": {"domain": [-3.6, 3.6], "nice": false, "zero": false},
                              "axis": {"values": [-3, -2, -1, 0, 1, 2, 3], "labelExpr": "datum.value > 0 ? '+' + datum.value : (datum.value < 0 ? '−' + (-datum.value) : '0')", "domain": false, "ticks": false, "title": null, "labelPadding": 2}},
                        "y": {"field": "lo", "type": "quantitative", "scale": {"domain": [0, 2], "nice": false}, "axis": {"values": [0, 1, 2], "title": "Bits", "tickSize": 4, "labelPadding": 4, "titlePadding": 8}},
                        "y2": {"field": "hi"},
                        "fill": {"field": "L", "type": "nominal", "scale": {"domain": ["A","C","G","T"], "range": ["#2e9e48", "#283a94", "#f8a51b", "#d0141e"]}, "legend": null}}},
          {"data": {"name": "logoS"}, "transform": [{"filter": "datum.lg == 1 && datum.part == 's'"}], "mark": {"type": "bar", "size": 5, "opacity": 0.9},
           "encoding": {"x": {"field": "pos", "type": "quantitative"}, "y": {"field": "lo", "type": "quantitative"}, "y2": {"field": "hi"}, "fill": {"field": "L", "type": "nominal", "legend": null}}},
          {"data": {"name": "logoL"}, "transform": [{"filter": "datum.lg == 1"}], "mark": {"type": "point", "filled": true, "opacity": 1, "strokeWidth": 0},
           "encoding": {"x": {"field": "pos", "type": "quantitative"}, "y": {"datum": 0, "type": "quantitative"},
                        "shape": {"field": "L", "type": "nominal", "scale": {"domain": ["C", "G"], "range": ["M0.398 -1.643 A0.52 1 0 1 0 0.398 -0.357 L0.207 -0.524 A0.27 0.74 0 1 1 0.207 -1.476 Z", "M0.398 -1.643 A0.52 1 0 1 0 0.52 -1 L0.06 -1 L0.06 -0.82 L0.262 -0.82 A0.27 0.74 0 1 1 0.207 -1.476 Z"]}, "legend": null},
                        "fill": {"field": "L", "type": "nominal", "legend": null},
                        "size": {"field": "bits", "type": "quantitative", "scale": {"type": "pow", "exponent": 2, "domain": [0, 2], "range": [0, 2500]}, "legend": null}}},
          {"data": {"name": "etxt"}, "transform": [{"filter": "datum.lg == 1 && datum.kind == 'species'"}], "mark": {"type": "text", "fontStyle": "italic", "align": "left", "fontSize": 10},
           "encoding": {"x": {"field": "x", "type": "quantitative"}, "y": {"field": "y", "type": "quantitative"}, "text": {"field": "t"}}},
          {"data": {"name": "etxt"}, "transform": [{"filter": "datum.lg == 1 && datum.kind == 'strain'"}], "mark": {"type": "text", "align": "left", "fontSize": 10},
           "encoding": {"x": {"field": "x", "type": "quantitative"}, "y": {"field": "y", "type": "quantitative"}, "text": {"field": "t"}}},
          {"data": {"name": "etxt"}, "transform": [{"filter": "datum.lg == 1 && datum.kind == 'end'"}], "mark": {"type": "text", "fontSize": 10},
           "encoding": {"x": {"field": "x", "type": "quantitative"}, "y": {"field": "y", "type": "quantitative"}, "text": {"field": "t"}}},
          {"data": {"name": "etxt"}, "transform": [{"filter": "datum.lg == 1 && datum.kind == 'panel'"}], "mark": {"type": "text", "fontSize": 12, "fontWeight": "bold"},
           "encoding": {"x": {"field": "x", "type": "quantitative"}, "y": {"field": "y", "type": "quantitative"}, "text": {"field": "t"}}}
         ]
        },
        {
         "width": 168, "height": 49.3,
         "layer": [
          {"data": {"name": "logoS"}, "transform": [{"filter": "datum.lg == 2 && datum.part == 'f'"}], "mark": {"type": "bar", "size": 22, "opacity": 0.85},
           "encoding": {"x": {"field": "pos", "type": "quantitative", "scale": {"domain": [-3.6, 3.6], "nice": false, "zero": false},
                              "axis": {"values": [-3, -2, -1, 0, 1, 2, 3], "labelExpr": "datum.value > 0 ? '+' + datum.value : (datum.value < 0 ? '−' + (-datum.value) : '0')", "domain": false, "ticks": false, "title": null, "labelPadding": 2}},
                        "y": {"field": "lo", "type": "quantitative", "scale": {"domain": [0, 2], "nice": false}, "axis": {"values": [0, 1, 2], "title": "Bits", "tickSize": 4, "labelPadding": 4, "titlePadding": 8}},
                        "y2": {"field": "hi"},
                        "fill": {"field": "L", "type": "nominal", "scale": {"domain": ["A","C","G","T"], "range": ["#2e9e48", "#283a94", "#f8a51b", "#d0141e"]}, "legend": null}}},
          {"data": {"name": "logoS"}, "transform": [{"filter": "datum.lg == 2 && datum.part == 's'"}], "mark": {"type": "bar", "size": 5, "opacity": 0.9},
           "encoding": {"x": {"field": "pos", "type": "quantitative"}, "y": {"field": "lo", "type": "quantitative"}, "y2": {"field": "hi"}, "fill": {"field": "L", "type": "nominal", "legend": null}}},
          {"data": {"name": "logoL"}, "transform": [{"filter": "datum.lg == 2"}], "mark": {"type": "point", "filled": true, "opacity": 1, "strokeWidth": 0},
           "encoding": {"x": {"field": "pos", "type": "quantitative"}, "y": {"datum": 0, "type": "quantitative"},
                        "shape": {"field": "L", "type": "nominal", "scale": {"domain": ["C", "G"], "range": ["M0.398 -1.643 A0.52 1 0 1 0 0.398 -0.357 L0.207 -0.524 A0.27 0.74 0 1 1 0.207 -1.476 Z", "M0.398 -1.643 A0.52 1 0 1 0 0.52 -1 L0.06 -1 L0.06 -0.82 L0.262 -0.82 A0.27 0.74 0 1 1 0.207 -1.476 Z"]}, "legend": null},
                        "fill": {"field": "L", "type": "nominal", "legend": null},
                        "size": {"field": "bits", "type": "quantitative", "scale": {"type": "pow", "exponent": 2, "domain": [0, 2], "range": [0, 2500]}, "legend": null}}},
          {"data": {"name": "etxt"}, "transform": [{"filter": "datum.lg == 2 && datum.kind == 'species'"}], "mark": {"type": "text", "fontStyle": "italic", "align": "left", "fontSize": 10},
           "encoding": {"x": {"field": "x", "type": "quantitative"}, "y": {"field": "y", "type": "quantitative"}, "text": {"field": "t"}}},
          {"data": {"name": "etxt"}, "transform": [{"filter": "datum.lg == 2 && datum.kind == 'strain'"}], "mark": {"type": "text", "align": "left", "fontSize": 10},
           "encoding": {"x": {"field": "x", "type": "quantitative"}, "y": {"field": "y", "type": "quantitative"}, "text": {"field": "t"}}},
          {"data": {"name": "etxt"}, "transform": [{"filter": "datum.lg == 2 && datum.kind == 'end'"}], "mark": {"type": "text", "fontSize": 10},
           "encoding": {"x": {"field": "x", "type": "quantitative"}, "y": {"field": "y", "type": "quantitative"}, "text": {"field": "t"}}}
         ]
        },
        {
         "width": 168, "height": 50,
         "layer": [
          {"data": {"name": "logoS"}, "transform": [{"filter": "datum.lg == 3 && datum.part == 'f'"}], "mark": {"type": "bar", "size": 22, "opacity": 0.85},
           "encoding": {"x": {"field": "pos", "type": "quantitative", "scale": {"domain": [-3.6, 3.6], "nice": false, "zero": false},
                              "axis": {"values": [-3, -2, -1, 0, 1, 2, 3], "labelExpr": "datum.value > 0 ? '+' + datum.value : (datum.value < 0 ? '−' + (-datum.value) : '0')", "domain": false, "ticks": false, "title": null, "labelPadding": 2}},
                        "y": {"field": "lo", "type": "quantitative", "scale": {"domain": [0, 2], "nice": false}, "axis": {"values": [0, 1, 2], "title": "Bits", "tickSize": 4, "labelPadding": 4, "titlePadding": 8}},
                        "y2": {"field": "hi"},
                        "fill": {"field": "L", "type": "nominal", "scale": {"domain": ["A","C","G","T"], "range": ["#2e9e48", "#283a94", "#f8a51b", "#d0141e"]}, "legend": null}}},
          {"data": {"name": "logoS"}, "transform": [{"filter": "datum.lg == 3 && datum.part == 's'"}], "mark": {"type": "bar", "size": 5, "opacity": 0.9},
           "encoding": {"x": {"field": "pos", "type": "quantitative"}, "y": {"field": "lo", "type": "quantitative"}, "y2": {"field": "hi"}, "fill": {"field": "L", "type": "nominal", "legend": null}}},
          {"data": {"name": "logoL"}, "transform": [{"filter": "datum.lg == 3"}], "mark": {"type": "point", "filled": true, "opacity": 1, "strokeWidth": 0},
           "encoding": {"x": {"field": "pos", "type": "quantitative"}, "y": {"datum": 0, "type": "quantitative"},
                        "shape": {"field": "L", "type": "nominal", "scale": {"domain": ["C", "G"], "range": ["M0.398 -1.643 A0.52 1 0 1 0 0.398 -0.357 L0.207 -0.524 A0.27 0.74 0 1 1 0.207 -1.476 Z", "M0.398 -1.643 A0.52 1 0 1 0 0.52 -1 L0.06 -1 L0.06 -0.82 L0.262 -0.82 A0.27 0.74 0 1 1 0.207 -1.476 Z"]}, "legend": null},
                        "fill": {"field": "L", "type": "nominal", "legend": null},
                        "size": {"field": "bits", "type": "quantitative", "scale": {"type": "pow", "exponent": 2, "domain": [0, 2], "range": [0, 2500]}, "legend": null}}},
          {"data": {"name": "etxt"}, "transform": [{"filter": "datum.lg == 3 && datum.kind == 'species'"}], "mark": {"type": "text", "fontStyle": "italic", "align": "left", "fontSize": 10},
           "encoding": {"x": {"field": "x", "type": "quantitative"}, "y": {"field": "y", "type": "quantitative"}, "text": {"field": "t"}}},
          {"data": {"name": "etxt"}, "transform": [{"filter": "datum.lg == 3 && datum.kind == 'strain'"}], "mark": {"type": "text", "align": "left", "fontSize": 10},
           "encoding": {"x": {"field": "x", "type": "quantitative"}, "y": {"field": "y", "type": "quantitative"}, "text": {"field": "t"}}},
          {"data": {"name": "etxt"}, "transform": [{"filter": "datum.lg == 3 && datum.kind == 'end'"}], "mark": {"type": "text", "fontSize": 10},
           "encoding": {"x": {"field": "x", "type": "quantitative"}, "y": {"field": "y", "type": "quantitative"}, "text": {"field": "t"}}}
         ]
        }
       ]
      }
     ]
    }
   ]
  }
 ]
}
